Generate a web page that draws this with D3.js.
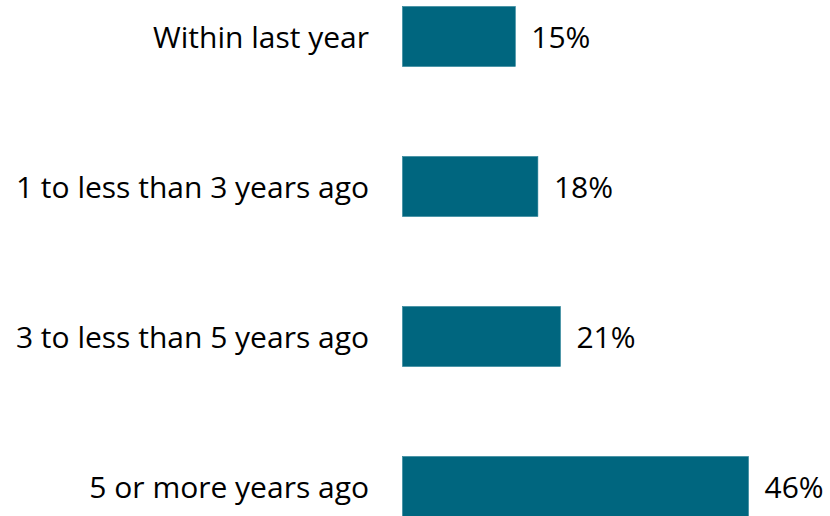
<!DOCTYPE html>
<html>
<head>
<meta charset="utf-8">
<script src="https://cdn.jsdelivr.net/npm/d3@7"></script>
<style>
  html, body { margin: 0; padding: 0; background: #fff; }
  svg { display: block; }
  text { font-family: "Open Sans", Lato, sans-serif; fill: #000; }
</style>
</head>
<body>
<svg id="chart" width="830" height="516"></svg>
<script>
// Time since last event, share of respondents
const categories = [
  "Within last year",
  "1 to less than 3 years ago",
  "3 to less than 5 years ago",
  "5 or more years ago"
];
const values = [15, 18, 21, 46];

const svg = d3.select("#chart");

const x = d3.scaleLinear().domain([0, 46]).range([402.5, 748.5]);
const y = d3.scaleBand()
  .domain(categories)
  .range([6.5, 516.5])
  .paddingInner(0.6)
  .paddingOuter(0);

const rows = categories.map((c, i) => ({ category: c, value: values[i] }));

// Bars
svg.selectAll("rect.bar")
  .data(rows)
  .join("rect")
  .attr("class", "bar")
  .attr("x", x(0))
  .attr("y", d => y(d.category))
  .attr("width", d => x(d.value) - x(0))
  .attr("height", y.bandwidth())
  .attr("fill", "#00667f")
  .attr("stroke", "#2a8298")
  .attr("stroke-width", 0.6);

// Category labels on the left
svg.selectAll("text.cat")
  .data(rows)
  .join("text")
  .attr("class", "cat")
  .attr("x", 369)
  .attr("y", d => y(d.category) + y.bandwidth() / 2)
  .attr("dy", "0.37em")
  .attr("text-anchor", "end")
  .attr("font-size", 30)
  .text(d => d.category);

// Value labels after each bar
svg.selectAll("text.val")
  .data(rows)
  .join("text")
  .attr("class", "val")
  .attr("x", d => x(d.value) + 16)
  .attr("y", d => y(d.category) + y.bandwidth() / 2)
  .attr("dy", "0.37em")
  .attr("font-size", 30)
  .text(d => d.value + "%");
</script>
</body>
</html>
